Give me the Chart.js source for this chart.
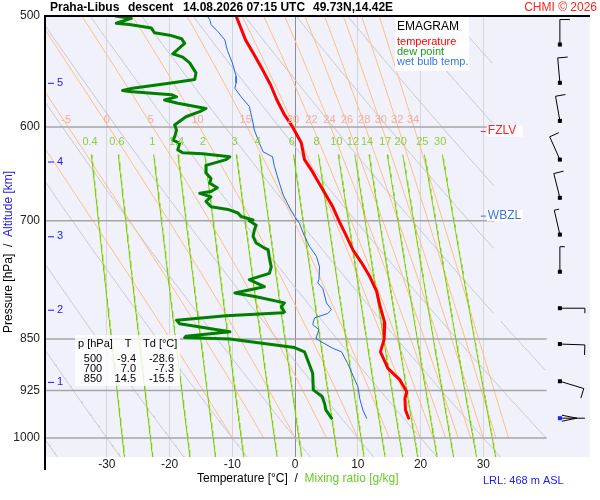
<!DOCTYPE html>
<html>
<head>
<meta charset="utf-8">
<script src="https://cdn.jsdelivr.net/npm/chart.js@4.4.1/dist/chart.umd.min.js"></script>
<style>
  html, body { margin: 0; padding: 0; background: #fff; }
  #wrap { width: 600px; height: 500px; }
</style>
</head>
<body>
<div id="wrap"><canvas id="emagram" width="600" height="500"></canvas></div>
<script>
// sounding: pressure [hPa] / temperature [C]
const tempP = [500, 520, 533, 546, 560, 574, 588, 600, 616, 633, 644, 665, 684, 700, 718, 734, 750, 767, 786, 804, 828, 850, 868, 892, 909, 927, 937, 955, 968];
const tempT = [-9.4, -7.9, -6.5, -5.2, -3.9, -2.9, -1.7, -0.4, 1.0, 1.5, 2.6, 4.4, 6.0, 7.0, 8.2, 9.2, 10.6, 11.9, 13.0, 13.5, 14.3, 14.2, 13.6, 14.8, 16.7, 17.8, 17.5, 17.6, 18.1];

const dewP = [500, 502, 506, 507, 510, 514, 516, 519, 523, 532, 535, 540, 549, 555, 558, 563, 565, 566, 569, 571, 574, 577, 582, 585, 590, 598, 603, 610, 613, 616, 623, 626, 627, 630, 633, 639, 647, 653, 658, 663, 667, 669, 673, 678, 684, 687, 691, 695, 699, 700, 705, 711, 718, 726, 732, 734, 744, 755, 763, 771, 780, 788, 793, 801, 806, 813, 814, 818, 824, 829, 840, 846, 848, 850, 862, 868, 887, 899, 924, 934, 945, 955, 968];
const dewT = [-28.6, -26.1, -28.5, -26.4, -22.9, -22.4, -20.0, -18.1, -17.6, -19.5, -17.9, -16.8, -15.8, -16.0, -19.5, -25.9, -27.5, -26.4, -19.7, -18.9, -20.8, -18.7, -14.2, -15.2, -17.4, -19.2, -18.9, -19.2, -19.5, -18.4, -18.7, -17.9, -14.7, -10.4, -11.0, -14.2, -14.2, -13.4, -13.6, -12.4, -13.4, -15.2, -13.4, -14.2, -13.4, -10.7, -9.1, -8.6, -6.7, -7.3, -6.2, -6.5, -6.7, -6.2, -4.9, -4.3, -4.1, -3.8, -4.1, -7.3, -4.9, -9.6, -6.2, -1.7, -2.2, -1.7, -1.9, -11.0, -18.9, -18.4, -10.4, -17.4, -17.6, -10.4, -0.1, 1.5, 2.3, 2.8, 2.9, 4.3, 4.7, 4.9, 5.8];

const wetP = [500, 503, 507, 513, 520, 529, 540, 552, 558, 563, 571, 580, 596, 603, 616, 625, 630, 640, 658, 671, 682, 695, 703, 718, 730, 742, 755, 771, 775, 782, 801, 810, 815, 821, 830, 837, 847, 850, 863, 868, 885, 902, 919, 937, 955, 968];
const wetT = [-14.0, -13.6, -13.4, -12.3, -11.2, -10.8, -10.0, -9.4, -9.4, -9.6, -8.6, -7.3, -6.7, -6.5, -5.7, -5.1, -3.6, -3.3, -2.5, -1.9, -1.1, -0.1, 0.7, 1.5, 2.3, 3.4, 3.9, 3.8, 3.6, 4.4, 5.0, 5.8, 5.2, 3.1, 2.8, 3.8, 3.4, 3.4, 6.0, 7.4, 8.4, 9.2, 10.0, 10.3, 10.8, 11.4];

// axes
const pressureTicks = [500, 600, 700, 850, 925, 1000];
const tempTicks = [-30, -20, -10, 0, 10, 20, 30];

// diagram isopleths (labels)
const mixRatios = [0.4, 0.6, 1, 1.4, 2, 3, 4, 6, 8, 10, 12, 14, 17, 20, 25, 30];
const moistThetaW = [-10, -5, 0, 5, 10, 15, 20, 22, 24, 26, 28, 30, 32, 34];
const dryTheta = [-40, -30, -20, -10, 0, 10, 20, 30, 40, 50, 60, 70, 80, 90, 100, 110];

// altitude marks [km] and where they sit [hPa]
const altKm = [1, 2, 3, 4, 5];
const altP = [912, 810, 718, 635, 558];

// freezing level / wet bulb zero [hPa]
const fzlvP = 604;
const wbzlP = 694;

// wind: pressure, direction [deg], speed [kt]
const windP = [524, 558, 594, 633, 674, 716, 761, 808, 857, 911, 968];
const windDir = [360, 355, 350, 336, 346, 347, 360, 90, 92, 107, 90];
const windKt = [10, 10, 10, 10, 10, 5, 5, 5, 10, 10, 0];

// small table
const tableP = [500, 700, 850];
const tableT = ['-9.4', '7.0', '14.5'];
const tableTd = ['-28.6', '-7.3', '-15.5'];

const FONT = '"Liberation Sans", Arial, sans-serif';
const rightEdge = p => (p >= 825 ? 40 : 31.7);

// --- thermodynamics for the background lines ---
const Rd = 287.04, Cp = 1005.7, Lv = 2.501e6, EPS = 0.622;
function satVap(tc) { return 6.112 * Math.exp(17.67 * tc / (tc + 243.5)); }
function moistSlope(T, p) {
  const e = satVap(T - 273.15);
  const rs = EPS * e / (p - e);
  return (Rd * T + Lv * rs) / (Cp + Lv * Lv * rs * EPS / (Rd * T * T));
}
function clipPt(t, p) {
  return t <= rightEdge(p) ? { x: t, y: p } : { x: null, y: null };
}
function dryLine(th) {
  const pts = [];
  for (let p = 498; p <= 1034; p += 2) {
    pts.push(clipPt((th + 273.15) * Math.pow(p / 1000, 0.2857) - 273.15, p));
  }
  return pts;
}
function moistLine(thw) {
  const pts = [];
  let T = thw + 273.15, lp = Math.log(1000), k = 0;
  const h = -0.002;
  while (Math.exp(lp) >= 497) {
    if (k % 4 === 0) pts.push(clipPt(T - 273.15, Math.exp(lp)));
    const s1 = moistSlope(T, Math.exp(lp));
    const s2 = moistSlope(T + s1 * h, Math.exp(lp + h));
    T += 0.5 * (s1 + s2) * h;
    lp += h;
    k++;
  }
  return pts;
}
function dewAt(w, p) {
  const l = Math.log(w * p / (622 + w) / 6.112);
  return 243.5 * l / (17.67 - l);
}
function mixLine(w) {
  const pts = [];
  for (let p = 628; p <= 1034; p += 4) pts.push({ x: dewAt(w, p), y: p });
  return pts;
}
function tempAt(pts, p) {
  for (let i = 1; i < pts.length; i++) {
    const a = pts[i - 1], b = pts[i];
    if (a.y === null || b.y === null) continue;
    if ((a.y - p) * (b.y - p) <= 0) return a.x + (b.x - a.x) * (p - a.y) / (b.y - a.y);
  }
  return null;
}

const profile = (ps, ts) => ps.map((p, i) => ({ x: ts[i], y: p }));
const lineSet = (data, color, width, order) => ({
  data, borderColor: color, borderWidth: width, showLine: true, pointRadius: 0,
  fill: false, tension: 0, spanGaps: false, order
});

const moistLines = moistThetaW.map(moistLine);
const datasets = [
  lineSet(profile(tempP, tempT), '#ff0000', 3, 1),
  lineSet(profile(dewP, dewT), '#008000', 3, 2),
  lineSet(profile(wetP, wetT), '#2266e0', 1, 3)
];
pressureTicks.slice(1).forEach(p => {
  datasets.push(lineSet([{ x: -45, y: p }, { x: rightEdge(p), y: p }], '#a6a6a6', 1.5, 4));
});
mixRatios.forEach(w => datasets.push(lineSet(mixLine(w), '#80d000', 1, 5)));
moistLines.forEach(d => datasets.push(lineSet(d, '#ffc080', 1, 6)));
dryTheta.forEach(th => datasets.push(lineSet(dryLine(th), '#c8c8ce', 1, 7)));

function text(ctx, s, x, y, color, font, align) {
  ctx.fillStyle = color;
  ctx.font = font;
  ctx.textAlign = align || 'left';
  ctx.textBaseline = 'middle';
  ctx.fillText(s, x, y);
}

const decorations = {
  id: 'decorations',
  beforeDraw(chart) {
    const { ctx, chartArea: a } = chart;
    ctx.save();
    ctx.fillStyle = '#ffffff';
    ctx.fillRect(0, 0, chart.width, chart.height);
    ctx.fillStyle = '#f1f1fc';
    ctx.fillRect(a.left, a.top, a.right - a.left, a.bottom - a.top);
    ctx.restore();
  },
  afterDatasetsDraw(chart) {
    const { ctx, chartArea: a } = chart;
    const xs = chart.scales.x, ys = chart.scales.y;
    ctx.save();

    // isopleth labels
    moistLines.forEach((d, i) => {
      if (moistThetaW[i] < -5) return;
      const t = tempAt(d, 597);
      if (t !== null) text(ctx, String(moistThetaW[i]), xs.getPixelForValue(t), ys.getPixelForValue(593), '#f8ab98', '11px ' + FONT, 'center');
    });
    mixRatios.forEach(w => {
      text(ctx, String(w), xs.getPixelForValue(dewAt(w, 615)), ys.getPixelForValue(615), '#8cd03a', '11px ' + FONT, 'center');
    });

    // altitude marks
    altKm.forEach((km, i) => {
      const y = ys.getPixelForValue(altP[i]);
      ctx.strokeStyle = '#1c1ce0';
      ctx.lineWidth = 1;
      ctx.beginPath(); ctx.moveTo(a.left + 2, y + 0.5); ctx.lineTo(a.left + 8, y + 0.5); ctx.stroke();
      text(ctx, String(km), a.left + 11, y, '#1c1ce0', '11px ' + FONT);
    });

    // freezing level and wet bulb zero
    [[fzlvP, 'FZLV', '#ff2020'], [wbzlP, 'WBZL', '#3878e0']].forEach(([p, s, c]) => {
      const y = ys.getPixelForValue(p);
      const x0 = xs.getPixelForValue(29.6);
      ctx.fillStyle = 'rgba(255,255,255,0.92)';
      ctx.fillRect(x0 + 6, y - 5.5, 36, 11);
      ctx.strokeStyle = c;
      ctx.lineWidth = 1;
      ctx.beginPath(); ctx.moveTo(x0, y + 0.5); ctx.lineTo(x0 + 5, y + 0.5); ctx.stroke();
      text(ctx, s, x0 + 7, y, c, '12px ' + FONT);
    });

    // wind barbs
    const wx = xs.getPixelForValue(42.2);
    windP.forEach((p, i) => {
      const y = ys.getPixelForValue(p);
      const d = windDir[i] * Math.PI / 180;
      const ux = Math.sin(d), uy = -Math.cos(d);
      const nx = -uy, ny = ux;
      const L = 25;
      ctx.strokeStyle = '#000';
      ctx.lineWidth = 1;
      ctx.beginPath();
      ctx.moveTo(wx, y);
      ctx.lineTo(wx + ux * L, y + uy * L);
      let pos = L, kt = windKt[i];
      while (kt >= 10) {
        const bx = wx + ux * pos, by = y + uy * pos;
        ctx.moveTo(bx, by); ctx.lineTo(bx + nx * 10, by + ny * 10);
        pos -= 4; kt -= 10;
      }
      if (kt >= 5) {
        const bx = wx + ux * pos, by = y + uy * pos;
        ctx.moveTo(bx, by); ctx.lineTo(bx + nx * 5, by + ny * 5);
      }
      if (windKt[i] < 5) {
        ctx.moveTo(wx + 2, y - 3); ctx.lineTo(wx + ux * 17, y + uy * 17);
        ctx.moveTo(wx + 2, y + 3); ctx.lineTo(wx + ux * 17, y + uy * 17);
      }
      ctx.stroke();
      ctx.fillStyle = windKt[i] < 5 ? '#2020ff' : '#000';
      ctx.fillRect(wx - 2, y - 2, 4, 4);
    });

    // legend box
    ctx.fillStyle = 'rgba(255,255,255,0.92)';
    ctx.fillRect(395, 17, 74, 54);
    text(ctx, 'EMAGRAM', 397, 27, '#000', '12px ' + FONT);
    text(ctx, 'temperature', 397, 42, '#ff0000', '11px ' + FONT);
    text(ctx, 'dew point', 397, 52, '#1e9a1e', '11px ' + FONT);
    text(ctx, 'wet bulb temp.', 397, 62, '#3878e0', '11px ' + FONT);

    // value table
    ctx.fillStyle = 'rgba(255,255,255,0.8)';
    ctx.fillRect(75, 335, 105, 51);
    text(ctx, 'p [hPa]', 78, 344, '#000', '11px ' + FONT);
    text(ctx, 'T', 128, 344, '#000', '11px ' + FONT, 'center');
    text(ctx, 'Td [°C]', 143, 344, '#000', '11px ' + FONT);
    tableP.forEach((p, i) => {
      const y = 358.5 + i * 10;
      text(ctx, String(p), 93, y, '#000', '11px ' + FONT, 'center');
      text(ctx, tableT[i], 136, y, '#000', '11px ' + FONT, 'right');
      text(ctx, tableTd[i], 174, y, '#000', '11px ' + FONT, 'right');
    });

    // frame
    ctx.strokeStyle = '#000';
    ctx.lineWidth = 2;
    ctx.beginPath();
    ctx.moveTo(a.left - 1, 470); ctx.lineTo(a.left - 1, a.top);
    ctx.lineTo(a.right, a.top);
    ctx.stroke();
    ctx.restore();
  },
  afterDraw(chart) {
    const { ctx } = chart;
    ctx.save();
    const bold = 'bold 12px ' + FONT;
    text(ctx, 'Praha-Libus', 50, 7.5, '#000', bold);
    text(ctx, 'descent', 128, 7.5, '#000', bold);
    text(ctx, '14.08.2026 07:15 UTC', 183, 7.5, '#000', bold);
    text(ctx, '49.73N,14.42E', 313, 7.5, '#000', bold);
    text(ctx, 'CHMI © 2026', 597, 7.5, '#ff2020', '12px ' + FONT, 'right');

    const t1 = 'Temperature [°C]  /  ';
    ctx.font = '12px ' + FONT;
    const w1 = ctx.measureText(t1).width;
    text(ctx, t1, 197, 479, '#000', '12px ' + FONT);
    text(ctx, 'Mixing ratio [g/kg]', 197 + w1, 479, '#66cc22', '12px ' + FONT);
    text(ctx, 'LRL: 468 m ASL', 483, 481, '#2020e0', '11px ' + FONT);

    ctx.translate(9, 333);
    ctx.rotate(-Math.PI / 2);
    const t2 = 'Pressure [hPa]  /  ';
    ctx.font = '12px ' + FONT;
    const w2 = ctx.measureText(t2).width;
    text(ctx, t2, 0, 0, '#000', '12px ' + FONT);
    text(ctx, 'Altitude [km]', w2, 0, '#1c1ce0', '12px ' + FONT);
    ctx.restore();
  }
};

new Chart(document.getElementById('emagram'), {
  type: 'scatter',
  data: { datasets },
  options: {
    responsive: false,
    animation: false,
    devicePixelRatio: 1,
    layout: { padding: { top: 16, right: 10, left: 0, bottom: 0 } },
    plugins: { legend: { display: false }, tooltip: { enabled: false } },
    elements: { line: { borderJoinStyle: 'round', borderCapStyle: 'round' } },
    scales: {
      x: {
        type: 'linear', min: -39.7, max: 47.0,
        afterBuildTicks: s => { s.ticks = tempTicks.map(v => ({ value: v })); },
        afterFit: s => { s.height = 43; },
        grid: { color: c => (c.tick && c.tick.value === 0 ? '#8e8e8e' : '#d6d6d8'), lineWidth: 1, drawTicks: false },
        border: { display: false },
        ticks: { font: { family: FONT, size: 12 }, color: '#222', padding: 0, maxRotation: 0, autoSkip: false }
      },
      y: {
        type: 'logarithmic', reverse: true, min: 500, max: 1031.7,
        afterBuildTicks: s => { s.ticks = pressureTicks.map(v => ({ value: v })); },
        afterFit: s => { s.width = 46; },
        grid: { display: false, drawTicks: false },
        border: { display: false },
        ticks: { callback: v => String(v), font: { family: FONT, size: 12 }, color: '#222', padding: 6, autoSkip: false }
      }
    }
  },
  plugins: [decorations]
});
</script>
</body>
</html>
